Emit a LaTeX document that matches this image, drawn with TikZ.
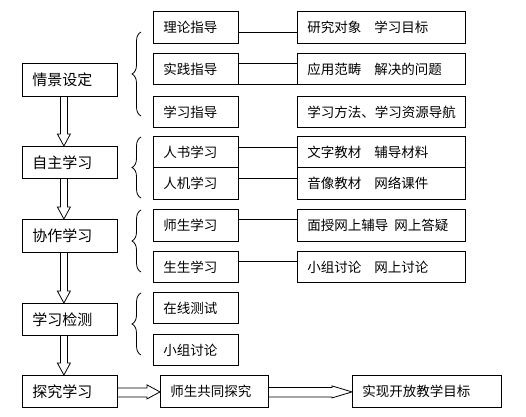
\documentclass[tikz,border=0pt]{standalone}
\usepackage{fontspec}
\setmainfont{Noto Sans CJK SC}
\usetikzlibrary{calc,decorations.pathreplacing}
\newcommand\myhollowdown[2]{%
  \draw ($(#1.south)+(-9.5,0)$) -- ($(#2.north)+(-9.5,-12)$) -- ($(#2.north)+(-12.5,-12)$)
    -- ($(#2.north)+(-6,0)$) -- ($(#2.north)+(0.5,-12)$) -- ($(#2.north)+(-2.5,-12)$)
    -- ($(#1.south)+(-2.5,0)$);}
\begin{document}
\begin{tikzpicture}[x=1pt,y=-1pt,line width=0.8pt,
  box/.style={draw,rectangle,anchor=north west,inner xsep=10pt,inner ysep=0pt,align=left},
  lbox/.style={box,text width=75pt,font=\fontsize{15}{16}\selectfont},
  mbox/.style={box,text width=65pt,font=\fontsize{13.5}{15}\selectfont},
  rbox/.style={box,text width=148pt,font=\fontsize{13.5}{15}\selectfont},
  brc/.style={decorate,decoration={brace,amplitude=9pt}}]
\fill[white] (0,0) rectangle (526,416);
\useasboundingbox (0,0) rectangle (526,416);
% left column
\node[lbox,minimum height=33pt] (l1) at (22,63) {情景设定};
\node[lbox,minimum height=32pt] (l2) at (22,146) {自主学习};
\node[lbox,minimum height=33pt] (l3) at (22,219) {协作学习};
\node[lbox,minimum height=32pt] (l4) at (22,303) {学习检测};
\node[lbox,minimum height=32pt] (l5) at (22,375) {探究学习};
% middle column
\node[mbox,minimum height=32pt] (m1) at (153,11) {理论指导};
\node[mbox,minimum height=31pt] (m2) at (153,53) {实践指导};
\node[mbox,minimum height=31pt] (m3) at (153,96) {学习指导};
\node[mbox,minimum height=31pt] (m4) at (153,136) {人书学习};
\node[mbox,minimum height=32pt] (m5) at (153,167) {人机学习};
\node[mbox,minimum height=32pt] (m6) at (153,209) {师生学习};
\node[mbox,minimum height=31pt] (m7) at (153,251) {生生学习};
\node[mbox,minimum height=31pt] (m8) at (153,292) {在线测试};
\node[mbox,minimum height=31pt] (m9) at (153,334) {小组讨论};
% right column
\node[rbox,minimum height=32pt] (r1) at (297,11) {研究对象\hspace{13pt}学习目标};
\node[rbox,minimum height=31pt] (r2) at (297,53) {应用范畴\hspace{13pt}解决的问题};
\node[rbox,minimum height=31pt] (r3) at (297,96) {学习方法、学习资源导航};
\node[rbox,minimum height=31pt] (r4) at (297,136) {文字教材\hspace{13pt}辅导材料};
\node[rbox,minimum height=32pt] (r5) at (297,167) {音像教材\hspace{13pt}网络课件};
\node[rbox,minimum height=32pt] (r6) at (297,209) {面授网上辅导\hspace{6pt}网上答疑};
\node[rbox,minimum height=31pt] (r7) at (297,251) {小组讨论\hspace{13pt}网上讨论};
% bottom row
\node[box,text width=88pt,minimum height=32pt,font=\fontsize{13.5}{15}\selectfont] (s1) at (160,375) {师生共同探究};
\node[box,text width=129pt,minimum height=32pt,font=\fontsize{13.5}{15}\selectfont] (s2) at (352,375) {实现开放教学目标};
% connectors middle -> right
\draw ([yshift=-5pt]m1.east) -- ([yshift=-5pt]r1.west);
\draw ([yshift=5.5pt]m2.east) -- ([yshift=5.5pt]r2.west);
\draw (m2.south east) -- (r2.south west);
\draw ([yshift=4.5pt]m4.east) -- ([yshift=4.5pt]r4.west);
\draw ([yshift=5pt]m5.east) -- ([yshift=5pt]r5.west);
\draw ([yshift=6pt]m6.east) -- ([yshift=6pt]r6.west);
\draw ([yshift=5.5pt]m7.east) -- ([yshift=5.5pt]r7.west);
% braces
\draw[brc] (141,116) -- (141,32);
\draw[brc] (141,198) -- (141,137);
\draw[brc] (141,272) -- (141,210);
\draw[brc] (141,355) -- (141,293);
% hollow down arrows
\myhollowdown{l1}{l2}
\myhollowdown{l2}{l3}
\myhollowdown{l3}{l4}
\myhollowdown{l4}{l5}
% hollow right arrows
\draw ($(l5.east)+(0,-3.5)$) -- ($(s1.west)+(-13,-3.5)$) -- ($(s1.west)+(-13,-6.5)$)
  -- ($(s1.west)+(0,0.5)$) -- ($(s1.west)+(-13,7.5)$) -- ($(s1.west)+(-13,5.5)$)
  -- ($(l5.east)+(0,5.5)$);
\draw ($(s1.east)+(0,-4)$) -- ($(s2.west)+(-20,-4)$) -- ($(s2.west)+(-20,-5.5)$)
  -- ($(s2.west)+(0,0.5)$) -- ($(s2.west)+(-20,6.5)$) -- ($(s2.west)+(-20,5.5)$)
  -- ($(s1.east)+(0,5.5)$);
\end{tikzpicture}
\end{document}
